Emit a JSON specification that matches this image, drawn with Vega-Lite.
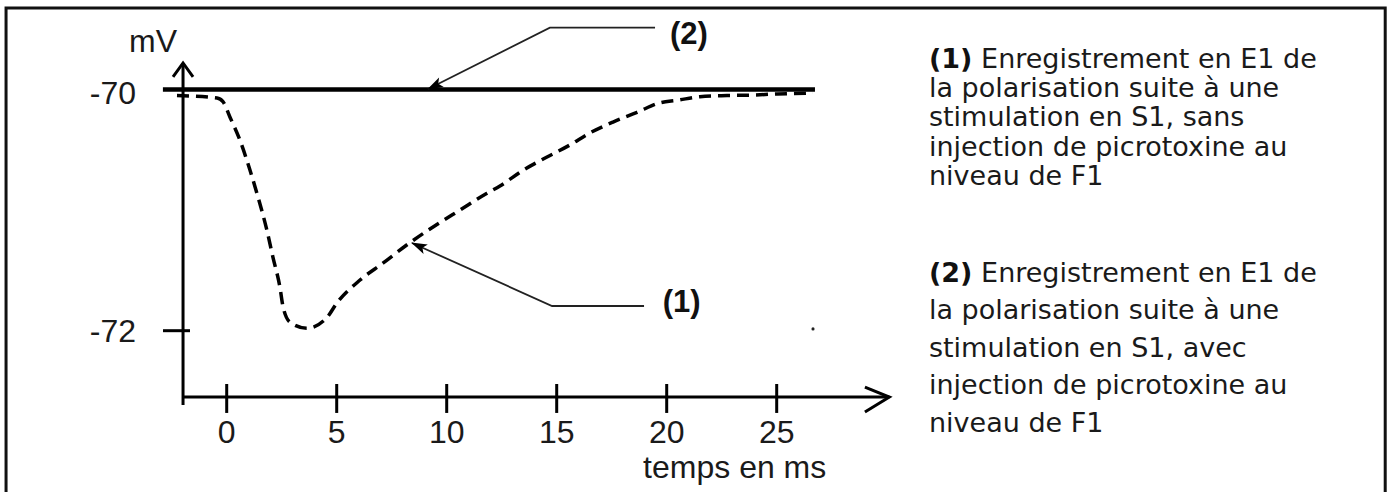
{
  "$schema": "https://vega.github.io/schema/vega-lite/v6.json",
  "width": 1393,
  "height": 492,
  "autosize": {"type": "none"},
  "padding": 0,
  "background": "white",
  "config": {"view": {"stroke": null}, "font": "Liberation Sans"},
  "layer": [
    {
      "data": {"values": [{"t": -10.03, "t2": 52.66, "v": -69.324, "v2": -73.6}]},
      "mark": {"type": "rect", "fillOpacity": 0, "stroke": "#111111", "strokeWidth": 3},
      "encoding": {
        "x": {"field": "t", "type": "quantitative", "scale": {"domain": [-10.305, 53.014], "nice": false, "zero": false}, "axis": null},
        "x2": {"field": "t2"},
        "y": {"field": "v", "type": "quantitative", "scale": {"domain": [-73.3375, -69.258], "nice": false, "zero": false}, "axis": null},
        "y2": {"field": "v2"}
      }
    },
    {
      "data": {"values": [
        {"t": -1.985, "t2": -1.985, "v": -69.78, "v2": -72.616},
        {"t": -1.985, "t2": 30.12, "v": -72.55, "v2": -72.55},
        {"t": 0, "t2": 0, "v": -72.442, "v2": -72.682},
        {"t": 5, "t2": 5, "v": -72.442, "v2": -72.682},
        {"t": 10, "t2": 10, "v": -72.442, "v2": -72.682},
        {"t": 15, "t2": 15, "v": -72.442, "v2": -72.682},
        {"t": 20, "t2": 20, "v": -72.442, "v2": -72.682},
        {"t": 25, "t2": 25, "v": -72.442, "v2": -72.682},
        {"t": -2.895, "t2": -1.668, "v": -72, "v2": -72}
      ]},
      "mark": {"type": "rule", "color": "#000000", "strokeWidth": 3},
      "encoding": {
        "x": {"field": "t", "type": "quantitative", "scale": {"domain": [-10.305, 53.014], "nice": false, "zero": false}, "axis": null},
        "x2": {"field": "t2"},
        "y": {"field": "v", "type": "quantitative", "scale": {"domain": [-73.3375, -69.258], "nice": false, "zero": false}, "axis": null},
        "y2": {"field": "v2"}
      }
    },
    {
      "data": {"values": [
        {"g": "y", "i": 0, "t": -2.44, "v": -69.896},
        {"g": "y", "i": 1, "t": -1.985, "v": -69.78},
        {"g": "y", "i": 2, "t": -1.53, "v": -69.896},
        {"g": "x", "i": 0, "t": 29.01, "v": -72.467},
        {"g": "x", "i": 1, "t": 30.12, "v": -72.55},
        {"g": "x", "i": 2, "t": 29.01, "v": -72.674}
      ]},
      "mark": {"type": "line", "color": "#000000", "strokeWidth": 3},
      "encoding": {
        "x": {"field": "t", "type": "quantitative", "scale": {"domain": [-10.305, 53.014], "nice": false, "zero": false}, "axis": null},
        "y": {"field": "v", "type": "quantitative", "scale": {"domain": [-73.3375, -69.258], "nice": false, "zero": false}, "axis": null},
        "detail": {"field": "g"},
        "order": {"field": "i"}
      }
    },
    {
      "data": {"values": [{"t": -2.9, "v": -70}, {"t": 26.74, "v": -70}]},
      "mark": {"type": "line", "color": "#000000", "strokeWidth": 4.5},
      "encoding": {
        "x": {"field": "t", "type": "quantitative", "scale": {"domain": [-10.305, 53.014], "nice": false, "zero": false}, "axis": null},
        "y": {"field": "v", "type": "quantitative", "scale": {"domain": [-73.3375, -69.258], "nice": false, "zero": false}, "axis": null}
      }
    },
    {
      "data": {"values": [
        {"t": -2.26, "v": -70.05}, {"t": -0.44, "v": -70.07}, {"t": -0.17, "v": -70.1},
        {"t": 0.15, "v": -70.23}, {"t": 0.6, "v": -70.42}, {"t": 1.06, "v": -70.67},
        {"t": 1.42, "v": -70.89}, {"t": 1.83, "v": -71.17}, {"t": 2.1, "v": -71.39},
        {"t": 2.42, "v": -71.64}, {"t": 2.56, "v": -71.8}, {"t": 2.88, "v": -71.93},
        {"t": 3.65, "v": -71.98}, {"t": 4.56, "v": -71.89}, {"t": 5.01, "v": -71.77},
        {"t": 6.06, "v": -71.58}, {"t": 7.1, "v": -71.44}, {"t": 8.33, "v": -71.27},
        {"t": 9.38, "v": -71.14}, {"t": 10.6, "v": -71.0}, {"t": 11.83, "v": -70.86},
        {"t": 12.42, "v": -70.8}, {"t": 13.47, "v": -70.67}, {"t": 14.56, "v": -70.56},
        {"t": 15.6, "v": -70.46}, {"t": 16.51, "v": -70.36}, {"t": 17.56, "v": -70.27},
        {"t": 18.65, "v": -70.19}, {"t": 19.7, "v": -70.11}, {"t": 20.47, "v": -70.09},
        {"t": 21.51, "v": -70.06}, {"t": 22.74, "v": -70.05}, {"t": 23.92, "v": -70.046},
        {"t": 25.01, "v": -70.037}, {"t": 26.65, "v": -70.03}
      ]},
      "mark": {"type": "line", "color": "#000000", "strokeWidth": 3.5, "strokeDash": [12, 7], "interpolate": "monotone"},
      "encoding": {
        "x": {"field": "t", "type": "quantitative", "scale": {"domain": [-10.305, 53.014], "nice": false, "zero": false}, "axis": null},
        "y": {"field": "v", "type": "quantitative", "scale": {"domain": [-73.3375, -69.258], "nice": false, "zero": false}, "axis": null}
      }
    },
    {
      "data": {"values": [
        {"g": "2", "i": 0, "t": 19.47, "v": -69.4876},
        {"g": "2", "i": 1, "t": 14.69, "v": -69.4876},
        {"g": "2", "i": 2, "t": 9.15, "v": -69.996},
        {"g": "1", "i": 0, "t": 18.97, "v": -71.7952},
        {"g": "1", "i": 1, "t": 14.79, "v": -71.7952},
        {"g": "1", "i": 2, "t": 8.42, "v": -71.2728}
      ]},
      "mark": {"type": "line", "color": "#222222", "strokeWidth": 1.8},
      "encoding": {
        "x": {"field": "t", "type": "quantitative", "scale": {"domain": [-10.305, 53.014], "nice": false, "zero": false}, "axis": null},
        "y": {"field": "v", "type": "quantitative", "scale": {"domain": [-73.3375, -69.258], "nice": false, "zero": false}, "axis": null},
        "detail": {"field": "g"},
        "order": {"field": "i"}
      }
    },
    {
      "data": {"values": [{"t": 9.435, "v": -69.9698}]},
      "mark": {"type": "point", "shape": "M0,-1L-0.65,1L0,0.55L0.65,1Z", "filled": true, "color": "#000000", "size": 256, "angle": 243.3, "opacity": 1},
      "encoding": {
        "x": {"field": "t", "type": "quantitative", "scale": {"domain": [-10.305, 53.014], "nice": false, "zero": false}, "axis": null},
        "y": {"field": "v", "type": "quantitative", "scale": {"domain": [-73.3375, -69.258], "nice": false, "zero": false}, "axis": null}
      }
    },
    {
      "data": {"values": [{"t": 8.713, "v": -71.2966}]},
      "mark": {"type": "point", "shape": "M0,-1L-0.65,1L0,0.55L0.65,1Z", "filled": true, "color": "#000000", "size": 256, "angle": 294.2, "opacity": 1},
      "encoding": {
        "x": {"field": "t", "type": "quantitative", "scale": {"domain": [-10.305, 53.014], "nice": false, "zero": false}, "axis": null},
        "y": {"field": "v", "type": "quantitative", "scale": {"domain": [-73.3375, -69.258], "nice": false, "zero": false}, "axis": null}
      }
    },
    {
      "data": {"values": [{"t": 26.65, "v": -71.985}]},
      "mark": {"type": "point", "shape": "circle", "filled": true, "color": "#222222", "size": 10, "opacity": 1},
      "encoding": {
        "x": {"field": "t", "type": "quantitative", "scale": {"domain": [-10.305, 53.014], "nice": false, "zero": false}, "axis": null},
        "y": {"field": "v", "type": "quantitative", "scale": {"domain": [-73.3375, -69.258], "nice": false, "zero": false}, "axis": null}
      }
    },
    {
      "data": {"values": [
        {"t": 34.29, "v": -69.8217, "txt": ["Enregistrement en E1 de"]},
        {"t": 31.92, "v": -70.0643, "txt": ["la polarisation suite à une", "stimulation en S1, sans", "injection de picrotoxine au", "niveau de F1"]}
      ]},
      "mark": {"type": "text", "align": "left", "baseline": "alphabetic", "font": "DejaVu Sans", "fontSize": 27, "lineHeight": 29.25, "color": "#1a1a1a"},
      "encoding": {
        "x": {"field": "t", "type": "quantitative", "scale": {"domain": [-10.305, 53.014], "nice": false, "zero": false}, "axis": null},
        "y": {"field": "v", "type": "quantitative", "scale": {"domain": [-73.3375, -69.258], "nice": false, "zero": false}, "axis": null},
        "text": {"field": "txt"}
      }
    },
    {
      "data": {"values": [
        {"t": 34.29, "v": -71.5962, "txt": ["Enregistrement en E1 de"]},
        {"t": 31.92, "v": -71.9071, "txt": ["la polarisation suite à une", "stimulation en S1, avec", "injection de picrotoxine au", "niveau de F1"]}
      ]},
      "mark": {"type": "text", "align": "left", "baseline": "alphabetic", "font": "DejaVu Sans", "fontSize": 27, "lineHeight": 37.5, "color": "#1a1a1a"},
      "encoding": {
        "x": {"field": "t", "type": "quantitative", "scale": {"domain": [-10.305, 53.014], "nice": false, "zero": false}, "axis": null},
        "y": {"field": "v", "type": "quantitative", "scale": {"domain": [-73.3375, -69.258], "nice": false, "zero": false}, "axis": null},
        "text": {"field": "txt"}
      }
    },
    {
      "data": {"values": [
        {"t": 31.92, "v": -69.8217, "txt": "(1)"},
        {"t": 31.92, "v": -71.5962, "txt": "(2)"}
      ]},
      "mark": {"type": "text", "align": "left", "baseline": "alphabetic", "font": "DejaVu Sans", "fontSize": 27, "fontWeight": "bold", "color": "#111111"},
      "encoding": {
        "x": {"field": "t", "type": "quantitative", "scale": {"domain": [-10.305, 53.014], "nice": false, "zero": false}, "axis": null},
        "y": {"field": "v", "type": "quantitative", "scale": {"domain": [-73.3375, -69.258], "nice": false, "zero": false}, "axis": null},
        "text": {"field": "txt"}
      }
    },
    {
      "data": {"values": [
        {"t": 19.82, "v": -71.845, "txt": "(1)"},
        {"t": 20.15, "v": -69.6227, "txt": "(2)"}
      ]},
      "mark": {"type": "text", "align": "left", "baseline": "alphabetic", "font": "Liberation Sans", "fontSize": 31, "fontWeight": "bold", "color": "#111111"},
      "encoding": {
        "x": {"field": "t", "type": "quantitative", "scale": {"domain": [-10.305, 53.014], "nice": false, "zero": false}, "axis": null},
        "y": {"field": "v", "type": "quantitative", "scale": {"domain": [-73.3375, -69.258], "nice": false, "zero": false}, "axis": null},
        "text": {"field": "txt"}
      }
    },
    {
      "data": {"values": [
        {"t": -3.35, "v": -69.689, "txt": "mV"},
        {"t": 23.09, "v": -73.2214, "txt": "temps en ms"},
        {"t": 0, "v": -72.931, "txt": "0"},
        {"t": 5, "v": -72.931, "txt": "5"},
        {"t": 10, "v": -72.931, "txt": "10"},
        {"t": 15, "v": -72.931, "txt": "15"},
        {"t": 20, "v": -72.931, "txt": "20"},
        {"t": 25, "v": -72.931, "txt": "25"}
      ]},
      "mark": {"type": "text", "align": "center", "baseline": "alphabetic", "font": "Liberation Sans", "fontSize": 32, "color": "#1a1a1a"},
      "encoding": {
        "x": {"field": "t", "type": "quantitative", "scale": {"domain": [-10.305, 53.014], "nice": false, "zero": false}, "axis": null},
        "y": {"field": "v", "type": "quantitative", "scale": {"domain": [-73.3375, -69.258], "nice": false, "zero": false}, "axis": null},
        "text": {"field": "txt"}
      }
    },
    {
      "data": {"values": [
        {"t": -4.12, "v": -70.12, "txt": "-70"},
        {"t": -4.12, "v": -72.09, "txt": "-72"}
      ]},
      "mark": {"type": "text", "align": "right", "baseline": "alphabetic", "font": "Liberation Sans", "fontSize": 32, "color": "#1a1a1a"},
      "encoding": {
        "x": {"field": "t", "type": "quantitative", "scale": {"domain": [-10.305, 53.014], "nice": false, "zero": false}, "axis": null},
        "y": {"field": "v", "type": "quantitative", "scale": {"domain": [-73.3375, -69.258], "nice": false, "zero": false}, "axis": null},
        "text": {"field": "txt"}
      }
    }
  ]
}
